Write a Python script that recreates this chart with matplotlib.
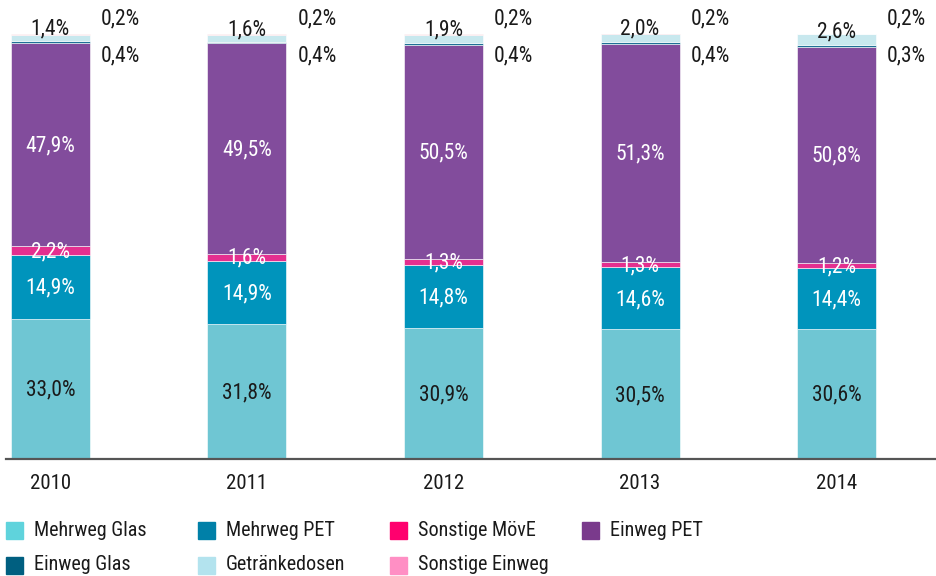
import numpy as np
import matplotlib
matplotlib.use("Agg")
import matplotlib.pyplot as plt
from matplotlib import font_manager
from matplotlib.patches import Rectangle

installed = {f.name for f in font_manager.fontManager.ttflist}
narrow = [f for f in ["Roboto Condensed", "Archivo Narrow", "Asap Condensed"]
          if f in installed]
plt.rcParams["font.family"] = narrow[:1] + ["DejaVu Sans"]

years = ["2010", "2011", "2012", "2013", "2014"]
mehrweg_glas = [33.0, 31.8, 30.9, 30.5, 30.6]
mehrweg_pet = [14.9, 14.9, 14.8, 14.6, 14.4]
sonstige_moeve = [2.2, 1.6, 1.3, 1.3, 1.2]
einweg_pet = [47.9, 49.5, 50.5, 51.3, 50.8]
einweg_glas = [0.4, 0.4, 0.4, 0.4, 0.3]
dosen = [1.4, 1.6, 1.9, 2.0, 2.6]
sonstige_einweg = [0.2, 0.2, 0.2, 0.2, 0.2]

series = [
    ("Mehrweg Glas", mehrweg_glas, "#6fc6d3", "#5fd3dc"),
    ("Mehrweg PET", mehrweg_pet, "#0094bc", "#0080a8"),
    ("Sonstige MövE", sonstige_moeve, "#e42f8f", "#ff006e"),
    ("Einweg PET", einweg_pet, "#824c9c", "#7a3a8c"),
    ("Einweg Glas", einweg_glas, "#1f7196", "#005f80"),
    ("Getränkedosen", dosen, "#c8e8ee", "#b3e3ee"),
    ("Sonstige Einweg", sonstige_einweg, "#f6c3cb", "#ff8fc4"),
]


def fmt(v):
    return f"{v:.1f}%".replace(".", ",")


W, H = 936, 576
fig = plt.figure(figsize=(W / 100, H / 100), dpi=100)
ax = fig.add_axes([6 / W, (H - 459) / H, 929 / W, 425 / H])

x = np.arange(len(years))
width = 0.402
bottom = np.zeros(len(years))
fs = 15.5
dark = "#1a1a1a"

for i, (name, vals, col, _) in enumerate(series):
    vals = np.array(vals)
    ax.bar(x, vals, width, bottom=bottom, color=col, edgecolor="white",
           linewidth=0.4)
    centers = bottom + vals / 2
    if i < 4:
        tc = dark if i == 0 else "white"
        for xi, c, v in zip(x, centers, vals):
            ax.text(xi, c - 0.3, fmt(v), ha="center", va="center",
                    color=tc, fontsize=fs)
    elif name == "Getränkedosen":
        for xi, c, v in zip(x, centers, vals):
            ax.text(xi, c + 2.0, fmt(v), ha="center", va="center",
                    color=dark, fontsize=fs, clip_on=False)
    elif name == "Einweg Glas":
        for xi, v in zip(x, vals):
            ax.text(xi + width / 2 + 0.056, 94.9, fmt(v), ha="left",
                    va="center", color=dark, fontsize=fs, clip_on=False)
    else:
        for xi, v in zip(x, vals):
            ax.text(xi + width / 2 + 0.056, 103.5, fmt(v), ha="left",
                    va="center", color=dark, fontsize=fs, clip_on=False)
    bottom = bottom + vals

ax.set_xlim(-0.226, 4.501)
ax.set_ylim(0, 100)
ax.set_yticks([])
ax.set_xticks(x)
ax.set_xticklabels(years, fontsize=15, color=dark)
ax.tick_params(axis="x", length=0, pad=11)
for side in ["top", "right", "left"]:
    ax.spines[side].set_visible(False)
ax.spines["bottom"].set_color("#555555")
ax.spines["bottom"].set_linewidth(1.6)

# legend, two rows of four columns
for k, (name, _, _, lcol) in enumerate(series):
    row, colno = divmod(k, 4)
    x0 = 6 + colno * 192
    yc = 530 + row * 35
    fig.add_artist(Rectangle((x0 / W, (H - yc - 8.5) / H), 17 / W, 17 / H,
                             transform=fig.transFigure, color=lcol))
    fig.text((x0 + 28) / W, (H - yc) / H, name, ha="left", va="center",
             fontsize=14.5, color=dark)

fig.savefig("out.png", dpi=100)
